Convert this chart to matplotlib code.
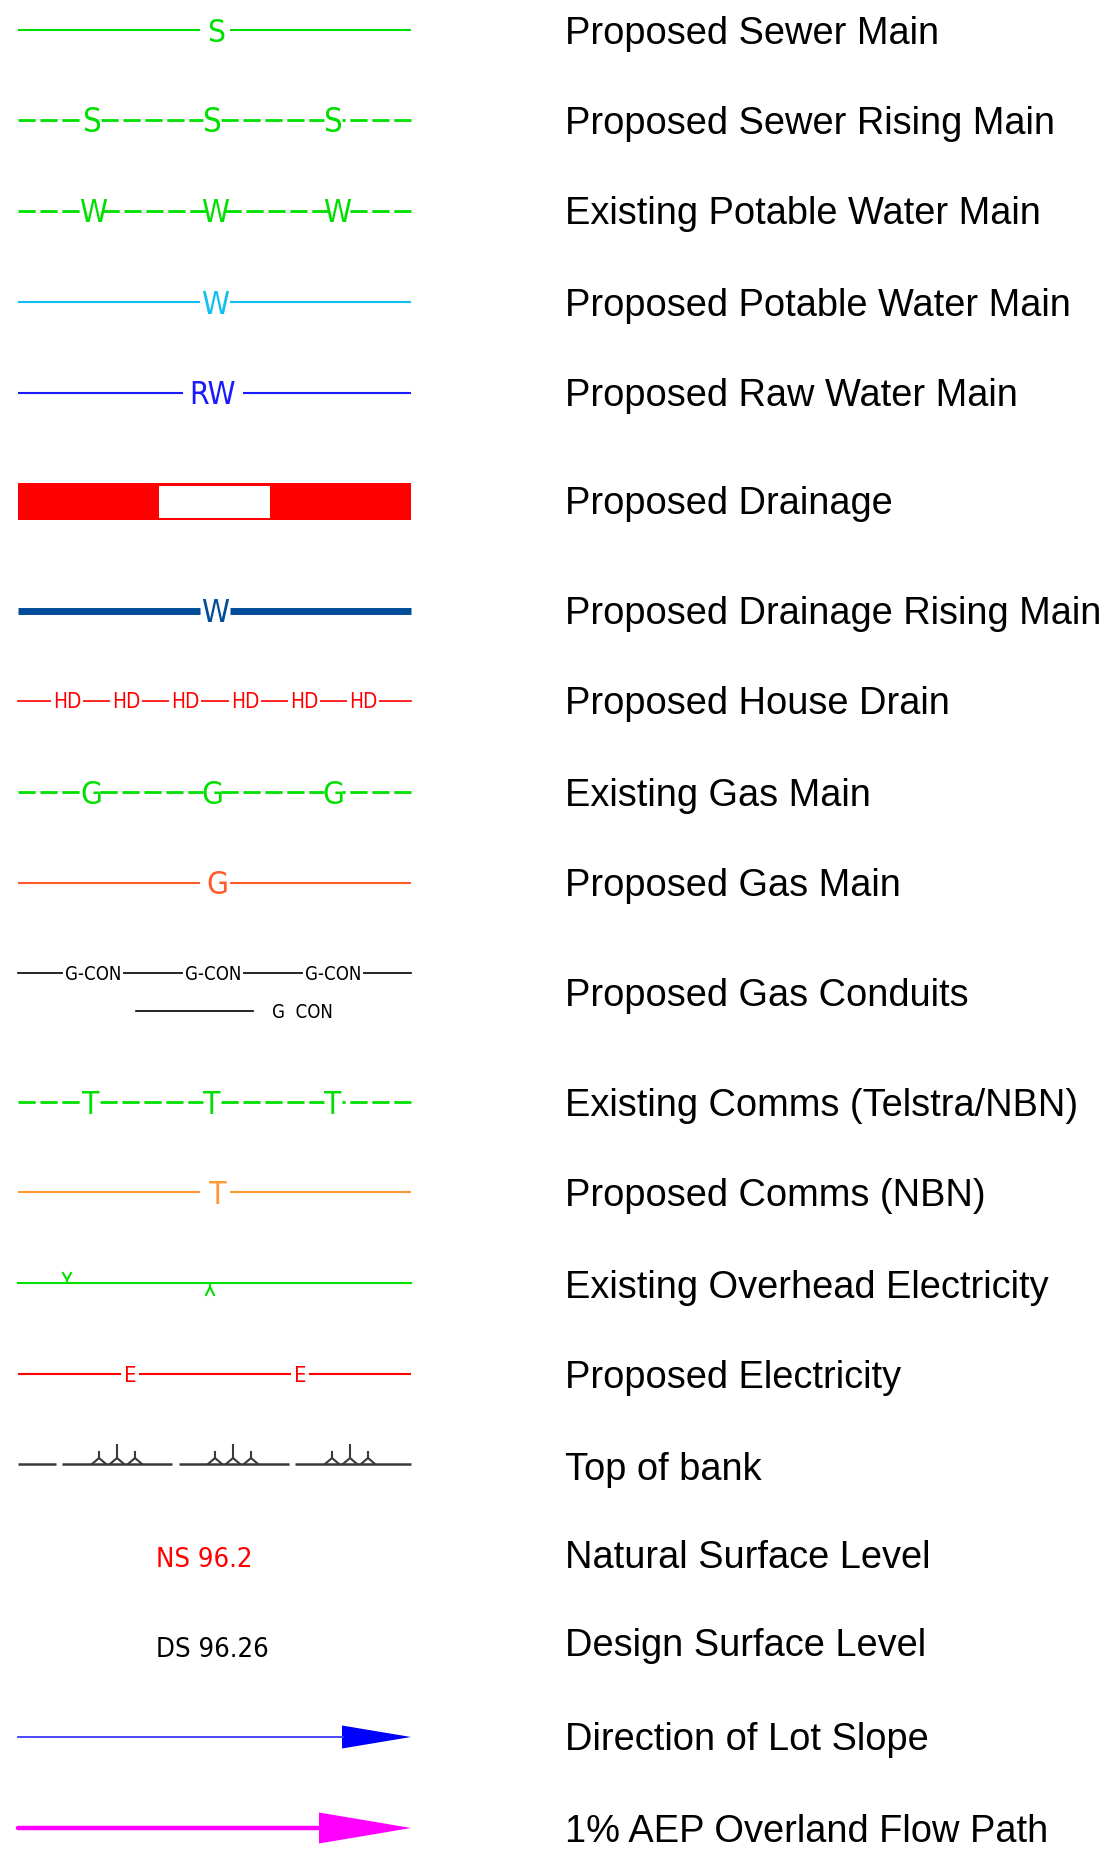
import numpy as np
import matplotlib.pyplot as plt

labels = [
    "Proposed Sewer Main", "Proposed Sewer Rising Main", "Existing Potable Water Main",
    "Proposed Potable Water Main", "Proposed Raw Water Main", "Proposed Drainage",
    "Proposed Drainage Rising Main", "Proposed House Drain", "Existing Gas Main",
    "Proposed Gas Main", "Proposed Gas Conduits", "Existing Comms (Telstra/NBN)",
    "Proposed Comms (NBN)", "Existing Overhead Electricity", "Proposed Electricity",
    "Top of bank", "Natural Surface Level", "Design Surface Level",
    "Direction of Lot Slope", "1% AEP Overland Flow Path",
]
label_y = [30, 120, 211, 302, 392, 501, 610, 701, 792, 882,
           992, 1103, 1192, 1284, 1374, 1466, 1554, 1643, 1737, 1829]
row_y = [30, 120, 211, 302, 393, 502, 611, 701, 792, 883,
         973, 1102, 1192, 1283, 1374, 1464, 1557, 1647, 1737, 1828]

sewer_rm_x = [92, 212, 333]
water_ex_x = [93, 215, 337]
gas_ex_x = [91, 212, 333]
comms_ex_x = [91, 212, 333]
hd_x = [67, 126, 185, 245, 304, 363]
gcon_x = [93, 213, 333]
elec_x = [130, 300]
bank_groups = [117, 233, 350]
ns_text = "NS 96.2"
ds_text = "DS 96.26"

X0, X1 = 18, 411
GREEN = '#00e000'

plt.rcParams['lines.scale_dashes'] = False
fig = plt.figure(figsize=(11.02, 18.61), dpi=100)
ax = fig.add_axes([0, 0, 1, 1])
ax.set_xlim(0, 1102)
ax.set_ylim(1861, 0)
ax.axis('off')


def cad(x, y, s, color, cap, ha='center', bg=False):
    fs = cap / 0.729 * 0.72
    kw = {}
    if bg:
        kw['bbox'] = dict(boxstyle='square,pad=0.08', fc='white', ec='none')
    ax.text(x, y + cap / 2, s, color=color, fontsize=fs, ha=ha, va='baseline',
            family='DejaVu Sans', fontstretch='condensed', zorder=3, **kw)


def gap_line(y, gaps, color, lw, dashes=None):
    xs = [X0] + [v for g in gaps for v in g] + [X1]
    segs = list(zip(xs[::2], xs[1::2]))
    for i, (a, b) in enumerate(segs):
        if dashes:
            # last piece drawn right-to-left so it ends on a full dash
            if i == len(segs) - 1:
                a, b = b, a
            ax.plot([a, b], [y, y], color=color, lw=lw, dashes=dashes,
                    dash_capstyle='butt')
        else:
            ax.plot([a, b], [y, y], color=color, lw=lw, solid_capstyle='butt')


def dashed_row(y, xs, letter, cap):
    gap_line(y, [(x - 9, x + 9) for x in xs], GREEN, 2, dashes=(12.4, 3.4))
    for x in xs:
        cad(x, y, letter, GREEN, cap)


# labels
for txt, y in zip(labels, label_y):
    ax.text(565, y + 13.5, txt, fontsize=27.4, family='Liberation Sans',
            va='baseline', ha='left', color='black')

# 1 sewer main
gap_line(row_y[0], [(200, 230)], GREEN, 1.5)
cad(216, row_y[0], "S", GREEN, 23)

# 2 sewer rising main
dashed_row(row_y[1], sewer_rm_x, "S", 24)

# 3 existing potable water
dashed_row(row_y[2], water_ex_x, "W", 23)

# 4 proposed potable water
gap_line(row_y[3], [(200, 230)], '#10bff0', 1.5)
cad(215, row_y[3], "W", '#10bff0', 23)

# 5 raw water
gap_line(row_y[4], [(183, 243)], '#1a1aff', 1.5)
cad(213, row_y[4], "RW", '#1a1aff', 23)

# 6 drainage
ax.add_patch(plt.Rectangle((X0, 483), X1 - X0, 37, color='#ff0000', lw=0))
ax.add_patch(plt.Rectangle((159, 485.5), 111, 32, color='white', lw=0))

# 7 drainage rising main
gap_line(row_y[6], [(200, 230)], '#004c99', 5)
cad(215, row_y[6], "W", '#004c99', 23)

# 8 house drain
ax.plot([X0, X1], [row_y[7]] * 2, color='#ff0000', lw=1.2)
for x in hd_x:
    cad(x, row_y[7], "HD", '#ff0000', 15, bg=True)

# 9 existing gas
dashed_row(row_y[8], gas_ex_x, "G", 23)

# 10 proposed gas
gap_line(row_y[9], [(200, 230)], '#ff5a28', 1.5)
cad(217, row_y[9], "G", '#ff5a28', 23)

# 11 gas conduits
ax.plot([X0, X1], [row_y[10]] * 2, color='black', lw=1.2)
for x in gcon_x:
    cad(x, row_y[10], "G-CON", 'black', 13.5, bg=True)
ax.plot([136, 253], [1011, 1011], color='black', lw=1.2)
cad(302, 1011, "G  CON", 'black', 13.5)

# 12 existing comms
dashed_row(row_y[11], comms_ex_x, "T", 23)

# 13 proposed comms
gap_line(row_y[12], [(200, 230)], '#ff9933', 1.5)
cad(218, row_y[12], "T", '#ff9933', 23)

# 14 overhead electricity
y = row_y[13]
ax.plot([X0, X1], [y, y], color=GREEN, lw=1.5)
ax.plot([63, 67, 71], [y - 10, y - 3, y - 10], color=GREEN, lw=1.5)
ax.plot([67, 67], [y - 3, y], color=GREEN, lw=1.5)
ax.plot([206, 210, 214], [y + 12, y + 4, y + 12], color=GREEN, lw=1.5)
ax.plot([210, 210], [y, y + 4], color=GREEN, lw=1.5)

# 15 proposed electricity
gap_line(row_y[14], [(121, 139), (291, 309)], '#ff0000', 1.5)
for x in elec_x:
    cad(x, row_y[14], "E", '#ff0000', 16)

# 16 top of bank
y = row_y[15]
BANK = '#3a3a3a'
gap_line(y, [(56, 62), (172, 179), (289, 295)], BANK, 1.8)
for gx in bank_groups:
    for off, stem in zip([-18, 0, 18], [12, 19, 12]):
        cx = gx + off
        ax.plot([cx - 7, cx, cx + 7], [y, y - 6, y], color=BANK, lw=1.5)
        ax.plot([cx, cx], [y - 6, y - stem], color=BANK, lw=1.5)

# 17, 18 levels
cad(156, row_y[16], ns_text, '#ff0000', 20, ha='left')
cad(156, row_y[17], ds_text, 'black', 20, ha='left')

# 19 lot slope
y = row_y[18]
ax.plot([X0, 343], [y, y], color='#3a3aff', lw=1.3)
ax.fill([342, X1, 342], [y - 11.5, y, y + 11.5], color='#0000ff', lw=0)

# 20 overland flow path
y = row_y[19]
ax.plot([X0, 322], [y, y], color='#ff00ff', lw=3.2, solid_capstyle='round')
ax.fill([319, X1, 319], [y - 15.5, y, y + 15.5], color='#ff00ff', lw=0)

fig.savefig('out.png', dpi=100, facecolor='white')
